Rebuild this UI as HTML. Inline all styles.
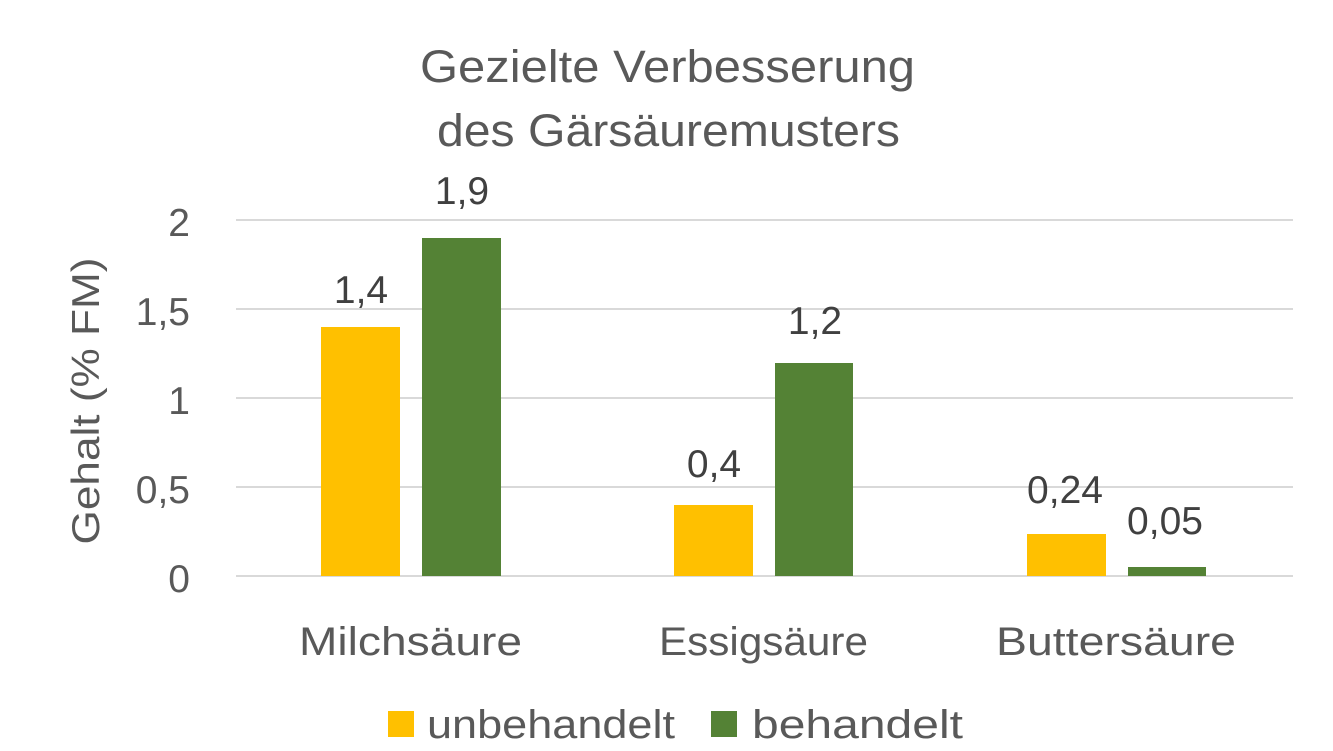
<!DOCTYPE html>
<html><head><meta charset="utf-8"><style>html,body{margin:0;padding:0;background:#fff}svg{display:block}</style></head>
<body>
<svg width="1333" height="751" xmlns="http://www.w3.org/2000/svg" font-family="Liberation Sans, sans-serif" fill="#595959">
<rect width="1333" height="751" fill="#fff"/>
<text x="420" y="82" font-size="45" textLength="495" lengthAdjust="spacingAndGlyphs">Gezielte Verbesserung</text>
<text x="437" y="146" font-size="45" textLength="463" lengthAdjust="spacingAndGlyphs">des Gärsäuremusters</text>
<g stroke="#d9d9d9" stroke-width="2">
<line x1="236" y1="220" x2="1293" y2="220"/>
<line x1="236" y1="309" x2="1293" y2="309"/>
<line x1="236" y1="398" x2="1293" y2="398"/>
<line x1="236" y1="487" x2="1293" y2="487"/>
<line x1="236" y1="576" x2="1293" y2="576"/>
</g>
<g font-size="39" text-anchor="end">
<text x="190" y="236">2</text>
<text x="190" y="325">1,5</text>
<text x="190" y="414">1</text>
<text x="190" y="503">0,5</text>
<text x="190" y="592">0</text>
</g>
<text transform="translate(99,401) rotate(-90)" font-size="39" text-anchor="middle" textLength="287" lengthAdjust="spacingAndGlyphs">Gehalt (% FM)</text>
<g fill="#FFC000">
<rect x="321" y="327" width="79" height="249"/>
<rect x="674" y="505" width="79" height="71"/>
<rect x="1027" y="534" width="79" height="42"/>
</g>
<g fill="#548235">
<rect x="422" y="238" width="79" height="338"/>
<rect x="775" y="363" width="78" height="213"/>
<rect x="1128" y="567" width="78" height="9"/>
</g>
<g font-size="39" text-anchor="middle" fill="#404040">
<text x="361" y="303">1,4</text>
<text x="462" y="204">1,9</text>
<text x="714" y="477">0,4</text>
<text x="815" y="334">1,2</text>
<text x="1065" y="503">0,24</text>
<text x="1165" y="534">0,05</text>
</g>
<g font-size="40" lengthAdjust="spacingAndGlyphs">
<text x="299" y="655" textLength="223" lengthAdjust="spacingAndGlyphs">Milchsäure</text>
<text x="659" y="655" textLength="209" lengthAdjust="spacingAndGlyphs">Essigsäure</text>
<text x="996" y="655" textLength="240" lengthAdjust="spacingAndGlyphs">Buttersäure</text>
</g>
<rect x="388" y="711" width="26" height="26" fill="#FFC000"/>
<text x="427" y="738" font-size="40" textLength="248" lengthAdjust="spacingAndGlyphs">unbehandelt</text>
<rect x="711" y="711" width="26" height="26" fill="#548235"/>
<text x="752" y="738" font-size="40" textLength="211" lengthAdjust="spacingAndGlyphs">behandelt</text>
</svg>
</body></html>
